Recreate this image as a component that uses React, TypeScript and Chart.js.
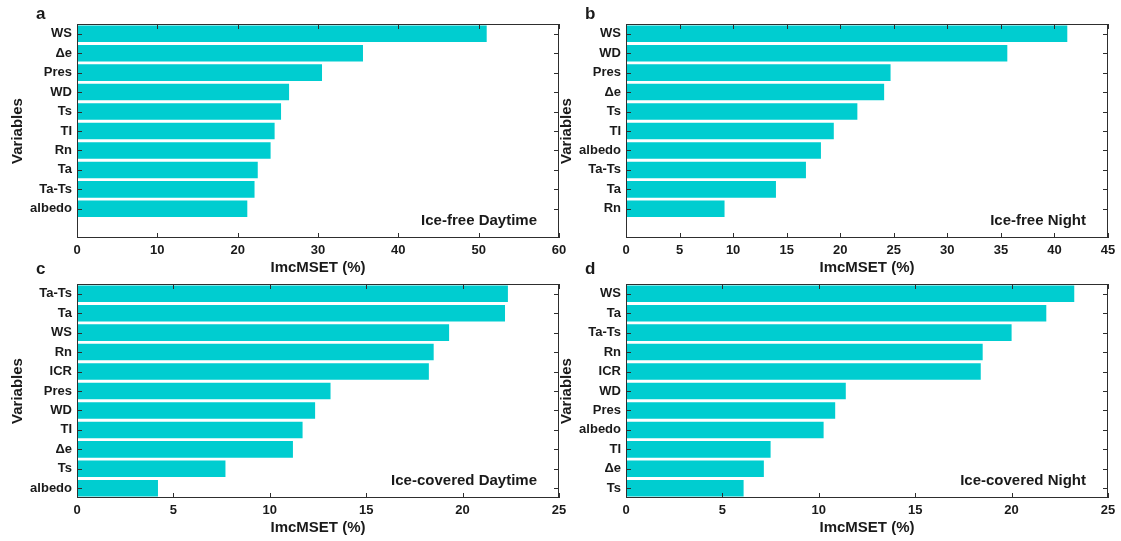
import React, { useEffect, useRef } from 'react';
import { Chart, registerables } from 'chart.js';

Chart.register(...registerables);

// ---------- data ----------
const catsA = ['WS', 'Δe', 'Pres', 'WD', 'Ts', 'TI', 'Rn', 'Ta', 'Ta-Ts', 'albedo'];
const valsA = [51.0, 35.6, 30.5, 26.4, 25.4, 24.6, 24.1, 22.5, 22.1, 21.2];

const catsB = ['WS', 'WD', 'Pres', 'Δe', 'Ts', 'TI', 'albedo', 'Ta-Ts', 'Ta', 'Rn'];
const valsB = [41.2, 35.6, 24.7, 24.1, 21.6, 19.4, 18.2, 16.8, 14.0, 9.2];

const catsC = ['Ta-Ts', 'Ta', 'WS', 'Rn', 'ICR', 'Pres', 'WD', 'TI', 'Δe', 'Ts', 'albedo'];
const valsC = [22.35, 22.2, 19.3, 18.5, 18.25, 13.15, 12.35, 11.7, 11.2, 7.7, 4.2];

const catsD = ['WS', 'Ta', 'Ta-Ts', 'Rn', 'ICR', 'WD', 'Pres', 'albedo', 'TI', 'Δe', 'Ts'];
const valsD = [23.25, 21.8, 20.0, 18.5, 18.4, 11.4, 10.85, 10.25, 7.5, 7.15, 6.1];

const xTickMaxA = 60, xStepA = 10;
const xTickMaxB = 45, xStepB = 5;
const xTickMaxC = 25, xStepC = 5;
const xTickMaxD = 25, xStepD = 5;

const xTitle = 'ImcMSET (%)';
const yTitle = 'Variables';

// ---------- styles ----------
const FONT = '"Liberation Sans", Arial, Helvetica, sans-serif';
const BAR = 'rgb(0, 205, 208)';
const TEXT = '#1a1a1a';
const AXIS = '#2e2e2e';
const SLOTS = 11;
const CW = 580;
const CH = 290;

type PanelProps = {
  left: number;
  top: number;
  cats: string[];
  vals: number[];
  xMax: number;
  xStep: number;
  letter: string;
  letterBaseline: number;
  note: string;
};

function Panel(p: PanelProps) {
  const ref = useRef<HTMLCanvasElement>(null);
  useEffect(() => {
    if (!ref.current) return;
    const labels = [...p.cats];
    const data: (number | null)[] = [...p.vals];
    while (labels.length < SLOTS) labels.push('');
    while (data.length < SLOTS) data.push(null);

    const frame = {
      id: 'frame',
      afterDatasetsDraw(chart: any) {
        const { ctx, chartArea: a, scales } = chart;
        const x = scales.x;
        const y = scales.y;
        const L = 5;
        ctx.save();
        ctx.strokeStyle = AXIS;
        ctx.lineWidth = 1;
        ctx.strokeRect(a.left + 0.5, a.top + 0.5, a.right - a.left - 1, a.bottom - a.top - 1);
        ctx.beginPath();
        for (let v = 0; v <= p.xMax + 1e-9; v += p.xStep) {
          const px = Math.round(x.getPixelForValue(v)) + 0.5;
          ctx.moveTo(px, a.bottom);
          ctx.lineTo(px, a.bottom - L);
          ctx.moveTo(px, a.top);
          ctx.lineTo(px, a.top + L);
        }
        labels.forEach((lab, i) => {
          if (!lab) return;
          const py = Math.round(y.getPixelForValue(i)) + 0.5;
          ctx.moveTo(a.left, py);
          ctx.lineTo(a.left + L, py);
          ctx.moveTo(a.right, py);
          ctx.lineTo(a.right - L, py);
        });
        ctx.stroke();
        ctx.restore();
      },
      afterDraw(chart: any) {
        const { ctx, chartArea: a } = chart;
        ctx.save();
        ctx.fillStyle = TEXT;
        ctx.font = `bold 15px ${FONT}`;
        ctx.textAlign = 'right';
        ctx.textBaseline = 'middle';
        ctx.fillText(p.note, a.right - 22, a.bottom - 17);
        ctx.font = `bold 17px ${FONT}`;
        ctx.textAlign = 'left';
        ctx.textBaseline = 'alphabetic';
        ctx.fillText(p.letter, a.left - 41, p.letterBaseline);
        ctx.restore();
      },
    };

    const chart = new Chart(ref.current, {
      type: 'bar',
      data: {
        labels,
        datasets: [
          {
            data,
            backgroundColor: BAR,
            borderWidth: 0,
            barPercentage: 0.85,
            categoryPercentage: 1,
          },
        ],
      },
      options: {
        indexAxis: 'y',
        responsive: false,
        animation: false,
        layout: { padding: { top: 24, right: 21, left: 0, bottom: 0 } },
        plugins: { legend: { display: false }, tooltip: { enabled: false } },
        scales: {
          x: {
            type: 'linear',
            min: 0,
            max: p.xMax,
            border: { display: false },
            grid: { display: false, drawTicks: false },
            ticks: {
              stepSize: p.xStep,
              padding: 5,
              color: TEXT,
              font: { family: FONT, size: 13, weight: 'bold' },
              maxRotation: 0,
            },
            title: {
              display: true,
              text: xTitle,
              color: TEXT,
              font: { family: FONT, size: 15, weight: 'bold' },
              padding: { top: 0, bottom: 13 },
            },
            afterFit(scale: any) {
              scale.height = 52;
            },
          },
          y: {
            type: 'category',
            border: { display: false },
            grid: { display: false, drawTicks: false },
            ticks: {
              padding: 5,
              color: TEXT,
              autoSkip: false,
              font: { family: FONT, size: 13, weight: 'bold' },
            },
            title: {
              display: true,
              text: yTitle,
              color: TEXT,
              font: { family: FONT, size: 15, weight: 'bold' },
              padding: { top: 9, bottom: 0 },
            },
            afterFit(scale: any) {
              scale.width = 77;
            },
          },
        },
      },
      plugins: [frame],
    } as any);
    return () => chart.destroy();
  }, []);

  return (
    <canvas
      ref={ref}
      width={CW}
      height={CH}
      style={{ position: 'absolute', left: p.left, top: p.top, width: CW, height: CH }}
    />
  );
}

export default function App() {
  return (
    <div
      style={{
        position: 'absolute',
        left: 0,
        top: 0,
        width: 1121,
        height: 541,
        overflow: 'hidden',
        background: '#fff',
      }}
    >
      <Panel left={0} top={0} cats={catsA} vals={valsA} xMax={xTickMaxA} xStep={xStepA} letter="a" letterBaseline={19} note="Ice-free Daytime" />
      <Panel left={549} top={0} cats={catsB} vals={valsB} xMax={xTickMaxB} xStep={xStepB} letter="b" letterBaseline={19} note="Ice-free Night" />
      <Panel left={0} top={260} cats={catsC} vals={valsC} xMax={xTickMaxC} xStep={xStepC} letter="c" letterBaseline={14} note="Ice-covered Daytime" />
      <Panel left={549} top={260} cats={catsD} vals={valsD} xMax={xTickMaxD} xStep={xStepD} letter="d" letterBaseline={14} note="Ice-covered Night" />
    </div>
  );
}
